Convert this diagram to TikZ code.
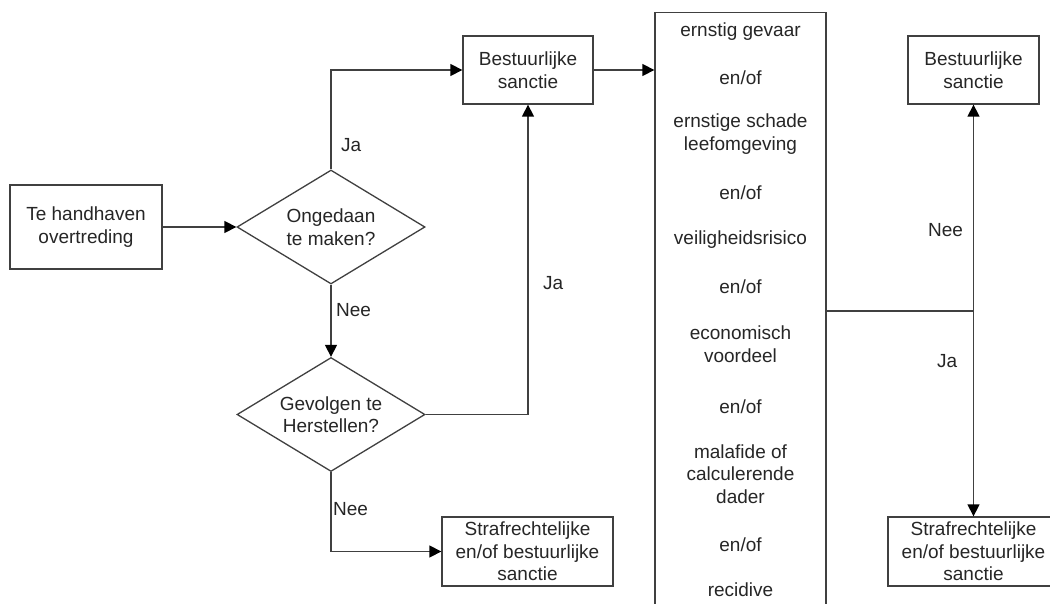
\documentclass[tikz,border=0pt]{standalone}
\usepackage{fontspec}
\setmainfont{Liberation Sans}
\usetikzlibrary{shapes.geometric,arrows.meta}
\begin{document}
\begin{tikzpicture}[x=1pt,y=-1pt,
  every node/.style={font=\fontsize{19}{22.5}\selectfont, text=black!85},
  box/.style={draw=black!75, line width=1.3pt, rectangle, align=center, inner sep=0pt},
  decision/.style={draw=black!75, line width=1.3pt, diamond, shape aspect=1.65, align=center, inner sep=0pt, minimum width=188pt, minimum height=114pt},
  conn/.style={draw=black!75, line width=1.3pt},
  arr/.style={conn, -{Triangle[length=12pt,width=12pt,fill=black,color=black]}},
  lbl/.style={anchor=west, inner sep=0pt},
  crit/.style={inner sep=0pt, align=center}
]
\useasboundingbox (0,0) rectangle (1050,604);
\clip (0,0) rectangle (1050,604);
\fill[white] (0,0) rectangle (1050,604);

% nodes
\node[box, minimum width=152pt, minimum height=84pt] (A) at (86,227) {Te handhaven\\overtreding};
\node[decision] (D1) at (331,227) {Ongedaan\\te maken?};
\node[decision] (D2) at (331,414.5) {Gevolgen te\\Herstellen?};
\node[box, minimum width=130pt, minimum height=68pt] (B1) at (528,70) {Bestuurlijke\\sanctie};
\node[box, minimum width=171pt, minimum height=69pt] (S1) at (527.5,551.5) {Strafrechtelijke\\en/of bestuurlijke\\sanctie};
\node[box, anchor=north, minimum width=171pt, minimum height=640pt] (T) at (740.5,12) {};
\node[box, minimum width=131pt, minimum height=68pt] (B2) at (973.5,70) {Bestuurlijke\\sanctie};
\node[box, minimum width=171pt, minimum height=69pt] (S2) at (973.5,551.5) {Strafrechtelijke\\en/of bestuurlijke\\sanctie};

% criteria text inside tall box
\node[crit] (c1) at (740.5,32) {ernstig gevaar};
\node[crit] (o1) at (740.5,78) {en/of};
\node[crit] (c2) at (740.5,134) {ernstige schade\\leefomgeving};
\node[crit] (o2) at (740.5,193) {en/of};
\node[crit] (c3) at (740.5,240) {veiligheidsrisico};
\node[crit] (o3) at (740.5,287) {en/of};
\node[crit] (c4) at (740.5,344) {economisch\\voordeel};
\node[crit] (o4) at (740.5,407) {en/of};
\node[crit] (c5) at (740.5,474) {malafide of\\calculerende\\dader};
\node[crit] (o5) at (740.5,545) {en/of};
\node[crit] (c6) at (740.5,590) {recidive};

% connectors
\draw[arr] (A.east) -- (D1.west);
\draw[arr] (D1.north) |- (B1.west);
\draw[arr] (D1.south) -- (D2.north);
\draw[arr] (D2.east) -| (B1.south);
\draw[arr] (D2.south) |- (S1.west);
\draw[arr] (B1.east) -- (B1.east -| T.west);
\coordinate (J) at (973.5,311);
\draw[conn] (T.east |- J) -- (J);
\draw[arr] (J) -- (B2.south);
\draw[arr] (J) -- (S2.north);

% labels
\node[lbl] (ja1) at (341,145) {Ja};
\node[lbl] (nee1) at (336,310) {Nee};
\node[lbl] (ja2) at (543,283) {Ja};
\node[lbl] (nee2) at (333,509) {Nee};
\node[lbl] (nee3) at (928,230) {Nee};
\node[lbl] (ja3) at (937,361) {Ja};
\end{tikzpicture}
\end{document}
